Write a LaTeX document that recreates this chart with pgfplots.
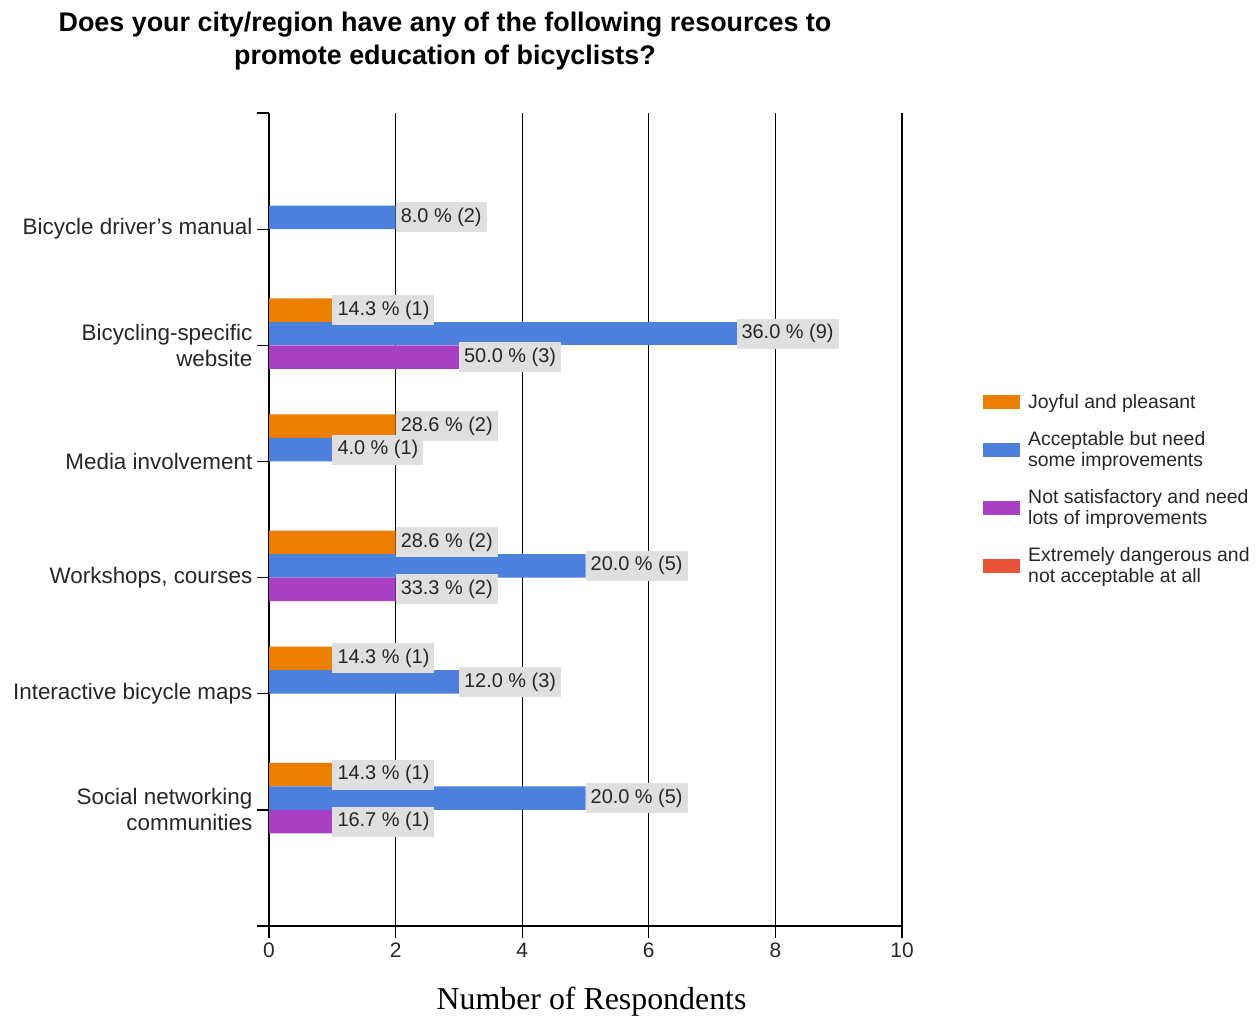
\documentclass[border=0pt]{standalone}
\usepackage{pgfplots}
\pgfplotsset{compat=1.18}
\usepackage{fontspec}
\setmainfont{Liberation Sans}
\newfontfamily\timesfont{Liberation Serif}
\definecolor{orC}{HTML}{EC7E00}
\definecolor{blC}{HTML}{4D80DD}
\definecolor{puC}{HTML}{A940C4}
\definecolor{reC}{HTML}{E9533A}
\definecolor{lblgray}{HTML}{DFDFDF}
\begin{document}
\begin{tikzpicture}
\useasboundingbox (0,0) rectangle (1258bp,-1017bp);
\begin{axis}[
  at={(269bp,-926bp)}, anchor=south west,
  scale only axis, width=633bp, height=813bp,
  xmin=0, xmax=10, ymin=0, ymax=7,
  axis lines*=left,
  axis line style={black, line width=1.3bp},
  xtick={0,2,...,10},
  ytick={0,1,...,7},
  yticklabels={,{Social networking\\communities},{Interactive bicycle maps},{Workshops, courses},{Media involvement},{Bicycling-specific\\website},{Bicycle driver's manual},},
  tick align=outside, major tick length=12bp,
  tick style={black, line width=1.3bp},
  xmajorgrids, major grid style={black, line width=1.3bp},
  /pgf/number format/assume math mode=true,
  xticklabel style={font=\fontsize{21}{24}\selectfont, text=black!85, inner sep=5bp},
  yticklabel style={font=\fontsize{22.5}{26}\selectfont, text=black!85, align=right, inner sep=4.5bp},
  title={Does your city/region have any of the following resources to\\promote education of bicyclists?},
  title style={at={(0.278,1.0815)}, anchor=center, align=center, font=\bfseries\fontsize{27}{33.5}\selectfont},
  xlabel={Number of Respondents},
  xlabel style={at={(0.5095,-0.093)}, anchor=center, font=\timesfont\fontsize{32}{34}\selectfont},
  xbar, bar width=23.5bp,
  point meta=explicit symbolic,
  nodes near coords,
  nodes near coords style={anchor=west, fill=lblgray, inner xsep=5bp, inner ysep=0pt, minimum height=30bp, font=\fontsize{20}{22}\selectfont, text=black!85},
  legend image code/.code={\fill[#1] (0bp,-7bp) rectangle (37bp,7bp);},
  legend style={draw=none, fill=none, inner sep=0pt, at={(1.128,0.6564)}, anchor=north west, row sep=17bp, cells={anchor=west, align=left}, font=\fontsize{19.5}{21.5}\selectfont, text=black!85, /tikz/every odd column/.append style={column sep=6bp}},
]
\addplot[draw=none, fill=orC, bar shift=35.25bp] coordinates {
  (1,5) [14.3 \% (1)]
  (2,4) [28.6 \% (2)]
  (2,3) [28.6 \% (2)]
  (1,2) [14.3 \% (1)]
  (1,1) [14.3 \% (1)]
};
\addplot[draw=none, fill=blC, bar shift=11.75bp] coordinates {
  (2,6) [8.0 \% (2)]
  (1,4) [4.0 \% (1)]
  (5,3) [20.0 \% (5)]
  (3,2) [12.0 \% (3)]
  (5,1) [20.0 \% (5)]
};
\addplot[forget plot, draw=none, fill=blC, bar shift=11.75bp, nodes near coords style={anchor=east}] coordinates {
  (9,5) [36.0 \% (9)]
};
\addplot[draw=none, fill=puC, bar shift=-11.75bp] coordinates {
  (3,5) [50.0 \% (3)]
  (2,3) [33.3 \% (2)]
  (1,1) [16.7 \% (1)]
};
\addlegendimage{draw=none, fill=reC}
\legend{Joyful and pleasant, Acceptable but need\\some improvements, Not satisfactory and need\\lots of improvements, Extremely dangerous and\\not acceptable at all}
\end{axis}
\end{tikzpicture}
\end{document}
